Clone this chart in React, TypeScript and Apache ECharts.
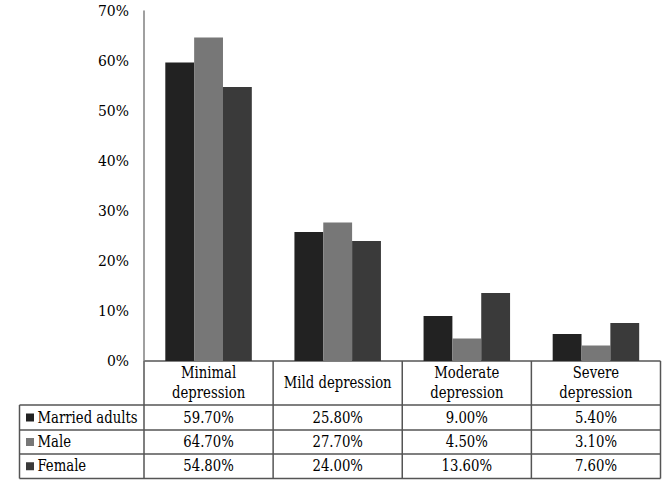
import React, { useEffect, useRef } from "react";
import * as echarts from "echarts";

const categories = ["Minimal\ndepression", "Mild depression", "Moderate\ndepression", "Severe\ndepression"];
const seriesNames = ["Married adults", "Male", "Female"];
const marriedAdults = [59.7, 25.8, 9.0, 5.4];
const male = [64.7, 27.7, 4.5, 3.1];
const female = [54.8, 24.0, 13.6, 7.6];
const seriesColors = ["#222222", "#777777", "#3a3a3a"];
const yMax = 70;
const yInterval = 10;

const FONT = "DejaVu Serif Condensed, DejaVu Serif";
const FS = 16;
const SX = 0.92;

export default function App() {
  const ref = useRef<HTMLDivElement>(null);
  useEffect(() => {
    document.body.style.margin = "0";
    const el = ref.current!;
    const chart = echarts.init(el, undefined, { renderer: "svg" });
    const data = [marriedAdults, male, female];
    const gridTop = 11;
    const gridBottom = 122;
    const H = 483;
    chart.setOption({
      animation: false,
      grid: { left: 144, right: 8.5, top: gridTop, bottom: gridBottom },
      xAxis: {
        type: "category",
        data: categories,
        axisLine: { show: false },
        axisTick: { show: false },
        axisLabel: { show: false },
      },
      yAxis: {
        type: "value",
        min: 0,
        max: yMax,
        interval: yInterval,
        axisLine: { show: true, lineStyle: { color: "#808080", width: 1.5 } },
        axisTick: { show: false },
        splitLine: { show: false },
        axisLabel: {
          formatter: "{value}%",
          color: "#000",
          fontFamily: FONT,
          fontSize: 15.5,
          margin: 15,
        },
      },
      series: data.map((d, i) => ({
        type: "bar",
        name: seriesNames[i],
        data: d,
        barGap: "0%",
        barCategoryGap: "33%",
        itemStyle: { color: seriesColors[i] },
      })),
    });

    const centers = categories.map((_, i) => chart.convertToPixel({ xAxisIndex: 0 }, i) as number);
    const half = (centers[1] - centers[0]) / 2;
    const bounds = [centers[0] - half, ...centers.map((c) => c + half)];
    const axisY = H - gridBottom;
    const rowTops = [405, 430, 454];
    const tableBottom = 478.5;
    const tableLeft = 19.5;
    const right = bounds[bounds.length - 1];
    const lineStyle = { stroke: "#555", lineWidth: 1.5 };
    const g: any[] = [];
    g.push({ type: "line", shape: { x1: bounds[0], y1: axisY, x2: right, y2: axisY }, style: lineStyle });
    [...rowTops, tableBottom].forEach((y) =>
      g.push({ type: "line", shape: { x1: tableLeft, y1: y, x2: right, y2: y }, style: lineStyle })
    );
    g.push({ type: "line", shape: { x1: tableLeft, y1: rowTops[0], x2: tableLeft, y2: tableBottom }, style: lineStyle });
    bounds.forEach((x) =>
      g.push({ type: "line", shape: { x1: x, y1: axisY, x2: x, y2: tableBottom }, style: lineStyle })
    );
    const headerMid = (axisY + rowTops[0]) / 2;
    categories.forEach((c, i) =>
      g.push({
        type: "text",
        x: centers[i],
        y: headerMid,
        scaleX: SX,
        style: {
          text: c,
          fill: "#000",
          fontFamily: FONT,
          fontSize: FS,
          align: "center",
          verticalAlign: "middle",
          lineHeight: 20,
        },
      })
    );
    const rowBottoms = [rowTops[1], rowTops[2], tableBottom];
    data.forEach((d, r) => {
      const mid = (rowTops[r] + rowBottoms[r]) / 2;
      g.push({
        type: "rect",
        shape: { x: 26, y: mid - 4, width: 8, height: 8 },
        style: { fill: seriesColors[r] },
      });
      g.push({
        type: "text",
        x: 37.5,
        y: mid,
        scaleX: SX,
        style: {
          text: seriesNames[r],
          fill: "#000",
          fontFamily: FONT,
          fontSize: FS,
          align: "left",
          verticalAlign: "middle",
        },
      });
      d.forEach((v, i) =>
        g.push({
          type: "text",
          x: centers[i],
          y: mid,
          scaleX: SX,
          style: {
            text: v.toFixed(2) + "%",
            fill: "#000",
            fontFamily: FONT,
            fontSize: FS,
            align: "center",
            verticalAlign: "middle",
          },
        })
      );
    });
    chart.setOption({ graphic: g });
    return () => chart.dispose();
  }, []);
  return <div ref={ref} style={{ width: 669, height: 483 }} />;
}
